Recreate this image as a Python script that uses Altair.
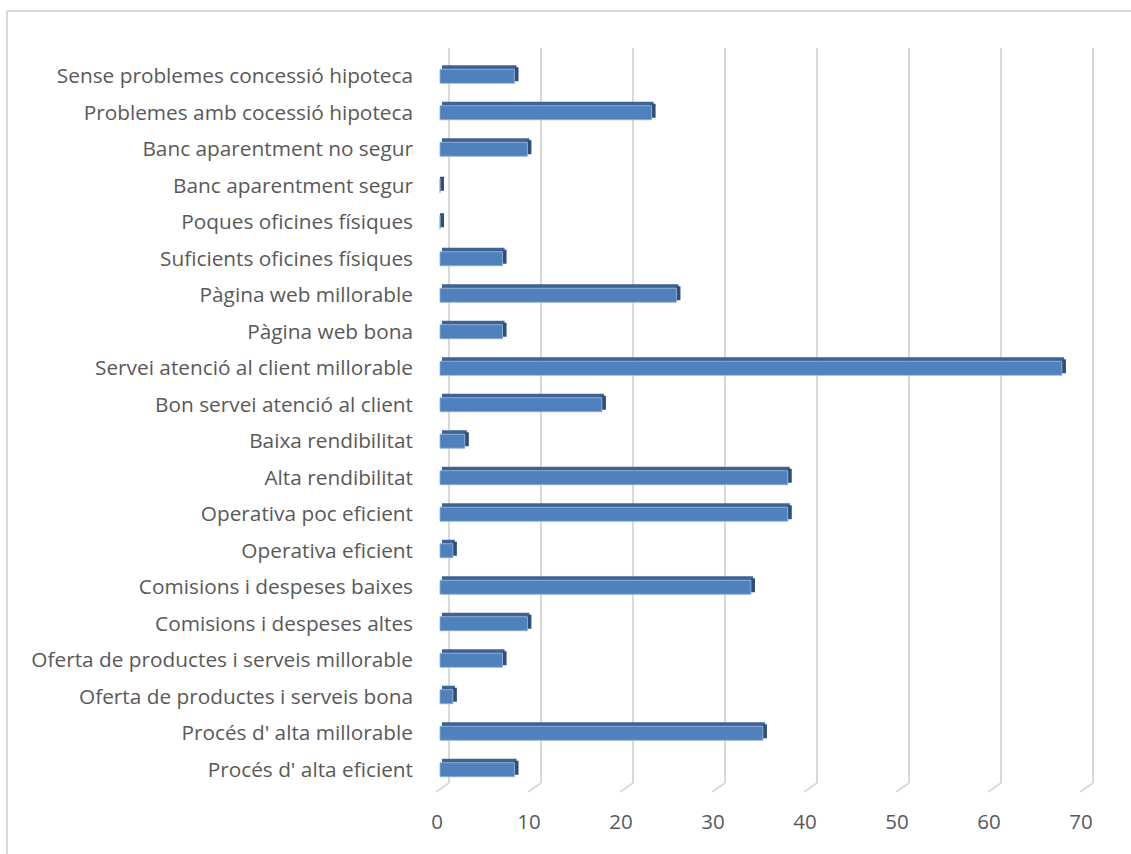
import altair as alt
import pandas as pd

categories = [
    "Sense problemes concessió hipoteca",
    "Problemes amb cocessió hipoteca",
    "Banc aparentment no segur",
    "Banc aparentment segur",
    "Poques oficines físiques",
    "Suficients oficines físiques",
    "Pàgina web millorable",
    "Pàgina web bona",
    "Servei atenció al client millorable",
    "Bon servei atenció al client",
    "Baixa rendibilitat",
    "Alta rendibilitat",
    "Operativa poc eficient",
    "Operativa eficient",
    "Comisions i despeses baixes",
    "Comisions i despeses altes",
    "Oferta de productes i serveis millorable",
    "Oferta de productes i serveis bona",
    "Procés d' alta millorable",
    "Procés d' alta eficient",
]
values = [8.1, 23.0, 9.5, 0.0, 0.0, 6.8, 25.7, 6.8, 67.6, 17.6,
          2.7, 37.8, 37.8, 1.4, 33.8, 9.5, 6.8, 1.4, 35.1, 8.1]
ticks = [0, 10, 20, 30, 40, 50, 60, 70]

FONT = "Open Sans"
TXT = "#595959"
GRID = "#d9d9d9"
W, H = 644, 730

df = pd.DataFrame({"cat": categories, "val": values})
tick_df = pd.DataFrame({"t": ticks})
one = pd.DataFrame({"a": [0]})

xs = alt.Scale(domain=[0, 70], nice=False, zero=True)
ys = alt.Scale(domain=categories, paddingInner=0, paddingOuter=0)

grid = alt.Chart(tick_df).mark_rule(color=GRID, strokeWidth=2, xOffset=9).encode(
    x=alt.X("t:Q", scale=xs, axis=None),
    y=alt.value(-10),
    y2=alt.value(725),
)
diag = alt.Chart(tick_df).mark_rule(color=GRID, strokeWidth=2, xOffset=9, x2Offset=-4).encode(
    x=alt.X("t:Q", scale=xs, axis=None),
    x2="t:Q",
    y=alt.value(725),
    y2=alt.value(734),
)
xlabels = alt.Chart(tick_df).mark_text(fontSize=20.5, color=TXT, font=FONT, xOffset=-3, baseline="middle").encode(
    x=alt.X("t:Q", scale=xs, axis=None),
    y=alt.value(765),
    text="t:Q",
)
ylabels = alt.Chart(df).mark_text(fontSize=20.8, color=TXT, font=FONT, align="right", baseline="middle", yOffset=1).encode(
    x=alt.value(-27),
    y=alt.Y("cat:N", scale=ys, axis=None),
    text="cat:N",
)

top_face = alt.Chart(df).mark_bar(color="#3d6395", height=4, yOffset=-9, xOffset=2, x2Offset=2).encode(
    x=alt.X("val:Q", scale=xs, axis=None),
    x2=alt.datum(0),
    y=alt.Y("cat:N", scale=ys, axis=None),
)
side_face = alt.Chart(df).mark_bar(color="#2f4f7a", height=14, yOffset=-2, x2Offset=4).encode(
    x=alt.X("val:Q", scale=xs, axis=None),
    x2="val:Q",
    y=alt.Y("cat:N", scale=ys, axis=None),
)
front = alt.Chart(df).mark_bar(color="#4f81bd", height=14, stroke="#8eaed6", strokeWidth=0.8).encode(
    x=alt.X("val:Q", scale=xs, axis=None),
    y=alt.Y("cat:N", scale=ys, axis=None),
)

border_left = alt.Chart(one).mark_rule(color=GRID, strokeWidth=2).encode(
    x=alt.value(-433), y=alt.value(-47), y2=alt.value(820)
)
border_top = alt.Chart(one).mark_rule(color=GRID, strokeWidth=2).encode(
    x=alt.value(-433), x2=alt.value(720), y=alt.value(-47)
)

chart = alt.layer(border_left, border_top, grid, diag, xlabels, ylabels, top_face, side_face, front).properties(
    width=W, height=H,
    autosize=alt.AutoSizeParams(type="none"),
    padding={"left": 440, "top": 58, "right": 47, "bottom": 66},
    background="white",
).configure_view(stroke=None)

chart.save("out.html", embed_options={"renderer": "svg", "actions": False})
